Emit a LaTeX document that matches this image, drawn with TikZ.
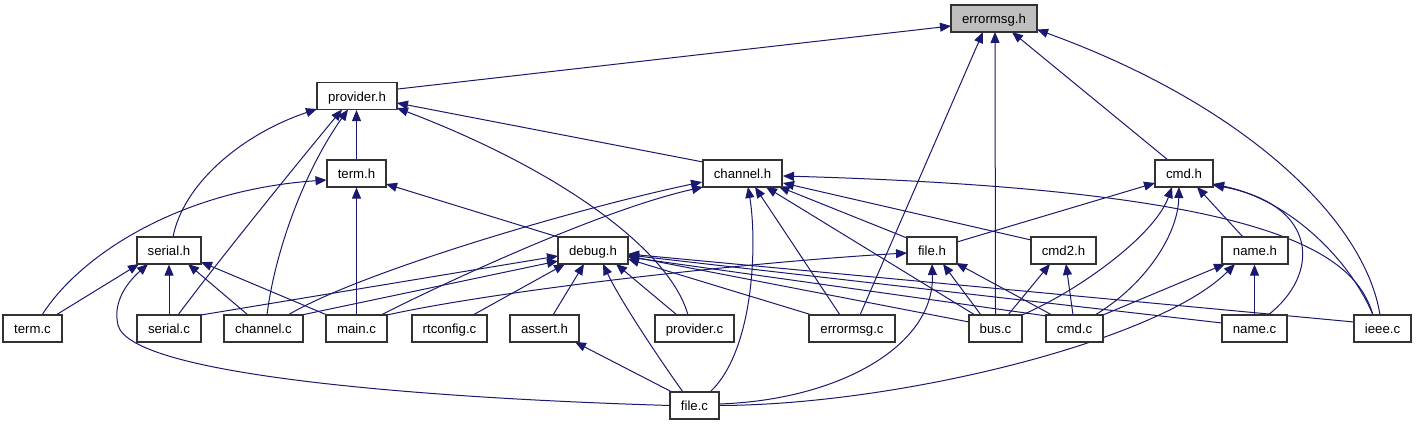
\documentclass[tikz,border=0pt]{standalone}
\usepackage{fontspec}
\setmainfont{Liberation Sans}
\usetikzlibrary{arrows.meta,calc}
\definecolor{edgec}{RGB}{25,25,112}
\definecolor{boxc}{RGB}{50,50,50}
\definecolor{hlfill}{RGB}{191,191,191}
\pgfdeclarelayer{back}
\pgfdeclarelayer{bg}
\pgfsetlayers{back,bg,main}
\begin{document}
\begin{tikzpicture}[x=1pt,y=-1pt,
  box/.style={draw=boxc,line width=1.2pt,fill=white,minimum height=27pt,inner sep=0pt,text height=11pt,text depth=0pt,font=\fontsize{13.2}{15}\selectfont,text=black},
  dep/.style={draw=edgec,line width=1pt,-{Triangle[length=11pt,width=9pt]}}]
\begin{pgfonlayer}{back}
\fill[white] (0,0) rectangle (1417,427);
\end{pgfonlayer}
\useasboundingbox (0,0) rectangle (1417,427);
% nodes
\node[box,fill=hlfill,minimum width=86pt] (errh) at (994,18.5) {errormsg.h};
\node[box,minimum width=80pt] (provh) at (357,96) {provider.h};
\node[box,minimum width=59pt] (termh) at (356.5,173.5) {term.h};
\node[box,minimum width=79pt] (chanh) at (742.5,173.5) {channel.h};
\node[box,minimum width=58pt] (cmdh) at (1184,173.5) {cmd.h};
\node[box,minimum width=64pt] (serialh) at (169,250.5) {serial.h};
\node[box,minimum width=70pt] (debugh) at (593,250.5) {debug.h};
\node[box,minimum width=50pt] (fileh) at (932,250.5) {file.h};
\node[box,minimum width=65pt] (cmd2h) at (1063.5,250.5) {cmd2.h};
\node[box,minimum width=66pt] (nameh) at (1255,250.5) {name.h};
\node[box,minimum width=59pt] (termc) at (32.5,328.5) {term.c};
\node[box,minimum width=64pt] (serialc) at (169,328.5) {serial.c};
\node[box,minimum width=79pt] (chanc) at (263.5,328.5) {channel.c};
\node[box,minimum width=61pt] (mainc) at (356.5,328.5) {main.c};
\node[box,minimum width=75pt] (rtc) at (449.5,328.5) {rtconfig.c};
\node[box,minimum width=69pt] (asserth) at (544.5,328.5) {assert.h};
\node[box,minimum width=79pt] (provc) at (694.5,328.5) {provider.c};
\node[box,minimum width=86pt] (errc) at (852,328.5) {errormsg.c};
\node[box,minimum width=53pt] (busc) at (995.5,328.5) {bus.c};
\node[box,minimum width=57pt] (cmdc) at (1074.5,328.5) {cmd.c};
\node[box,minimum width=65pt] (namec) at (1254.5,328.5) {name.c};
\node[box,minimum width=57pt] (ieeec) at (1382.5,328.5) {ieee.c};
\node[box,minimum width=49pt] (filec) at (694.5,405.5) {file.c};
\begin{pgfonlayer}{bg}
% to errormsg.h
\draw[dep] ($(provh)+(41,-7)$) -- ($(errh)+(-43,7.5)$);
\draw[dep] ($(errc)+(8,-13.5)$) -- ($(errh)+(-11,13.5)$);
\draw[dep] (busc.north) -- ($(errh)+(1,13.5)$);
\draw[dep] ($(cmdh)+(-16,-13.5)$) -- ($(errh)+(18,13.5)$);
\draw[dep] ($(ieeec)+(-2.5,-13.5)$) .. controls (1365,220) and (1245,105) .. ($(errh)+(43,11)$);
% to provider.h
\draw[dep] (termh.north) -- (termh.north |- provh.south);
\draw[dep] ($(serialh)+(4,-13.5)$) .. controls (183,185) and (240,135) .. ($(provh)+(-40,13)$);
\draw[dep] ($(serialc)+(9,-13.5)$) .. controls (215,265) and (300,160) .. ($(provh)+(-15,13.5)$);
\draw[dep] ($(chanc)+(3.5,-13.5)$) .. controls (275,250) and (305,170) .. ($(provh)+(-9,13.5)$);
\draw[dep] ($(chanh)+(-39.5,-11.5)$) -- ($(provh)+(40,7)$);
\draw[dep] ($(provc)+(-6.5,-13.5)$) .. controls (670,250) and (560,170) .. ($(provh)+(40,12)$);
% to term.h
\draw[dep] ($(termc)+(9.5,-13.5)$) .. controls (80,255) and (180,190) .. ($(termh)+(-30,6.5)$);
\draw[dep] (mainc.north) -- (mainc.north |- termh.south);
\draw[dep] ($(debugh)+(-35,-13.5)$) -- ($(termh)+(29.5,10.5)$);
% to channel.h
\draw[dep] ($(chanc)+(24.5,-13.5)$) .. controls (360,272) and (578,208) .. ($(chanh)+(-40.5,8.5)$);
\draw[dep] ($(mainc)+(24.5,-13.5)$) .. controls (440,285) and (600,210) .. ($(chanh)+(-39.5,13.5)$);
\draw[dep] ($(filec)+(15.5,-13.5)$) .. controls (755,350) and (757,240) .. ($(chanh)+(5.5,13.5)$);
\draw[dep] ($(errc)+(-12,-13.5)$) -- ($(chanh)+(12.5,13.5)$);
\draw[dep] ($(busc)+(-20.5,-13.5)$) -- ($(chanh)+(23.5,13.5)$);
\draw[dep] ($(fileh)+(-25,-12.5)$) -- ($(chanh)+(36,13)$);
\draw[dep] ($(cmd2h)+(-32.5,-10.5)$) -- ($(chanh)+(40.5,9.5)$);
\draw[dep] ($(ieeec)+(-9.5,-13.5)$) .. controls (1355,255) and (1280,190) .. ($(chanh)+(40.5,2.5)$);
% to cmd.h
\draw[dep] ($(fileh)+(25,-8.5)$) -- ($(cmdh)+(-29,9.5)$);
\draw[dep] ($(busc)+(26.5,-13.5)$) .. controls (1080,290) and (1155,235) .. ($(cmdh)+(-12,13.5)$);
\draw[dep] ($(cmdc)+(20.5,-13.5)$) .. controls (1145,285) and (1178,235) .. ($(cmdh)+(-5,13.5)$);
\draw[dep] ($(nameh)+(-12,-13.5)$) -- ($(cmdh)+(13,13.5)$);
\draw[dep] ($(namec)+(13.5,-13.5)$) .. controls (1320,275) and (1320,205) .. ($(cmdh)+(29,11.5)$);
\draw[dep] ($(ieeec)+(-9.5,-13.5)$) .. controls (1350,260) and (1290,200) .. ($(cmdh)+(29,10.5)$);
% to serial.h
\draw[dep] ($(termc)+(23.5,-13.5)$) -- ($(serialh)+(-30,13.5)$);
\draw[dep] (serialc.north) -- (serialh.south);
\draw[dep] ($(chanc)+(-15.5,-13.5)$) -- ($(serialh)+(19,13.5)$);
\draw[dep] ($(mainc)+(-29.5,-13.5)$) -- ($(serialh)+(32,11.5)$);
\draw[dep] ($(filec)+(-24.5,0)$) .. controls (420,398) and (130,375) .. (118,325) .. controls (112,300) and (130,280) .. ($(serialh)+(-21,13.5)$);
% to debug.h
\draw[dep] ($(serialc)+(32,-13.5)$) -- ($(debugh)+(-35,5.5)$);
\draw[dep] ($(chanc)+(38,-13.5)$) -- ($(debugh)+(-35,10.5)$);
\draw[dep] ($(rtc)+(23.5,-13.5)$) -- ($(debugh)+(-28,13.5)$);
\draw[dep] ($(asserth)+(8.5,-13.5)$) -- ($(debugh)+(-9,13.5)$);
\draw[dep] ($(filec)+(-11.5,-13.5)$) .. controls (660,360) and (620,300) .. ($(debugh)+(10,13.5)$);
\draw[dep] ($(provc)+(-17.5,-13.5)$) -- ($(debugh)+(23,13.5)$);
\draw[dep] ($(errc)+(-40,-13.5)$) -- ($(debugh)+(35,8.5)$);
\draw[dep] ($(busc)+(-26.5,-6.5)$) -- ($(debugh)+(35,5.5)$);
\draw[dep] ($(cmdc)+(-27.5,-12.5)$) -- ($(debugh)+(35,6.5)$);
\draw[dep] ($(namec)+(-32.5,-5.5)$) -- ($(debugh)+(35,4.5)$);
\draw[dep] ($(ieeec)+(-28.5,-6.5)$) -- ($(debugh)+(35,3.5)$);
% to file.h
\draw[dep] ($(mainc)+(30.5,-13.5)$) .. controls (500,290) and (750,262) .. ($(fileh)+(-25,2.5)$);
\draw[dep] ($(filec)+(24.5,-1.5)$) .. controls (840,400) and (935,345) .. ($(fileh)+(0,13.5)$);
\draw[dep] ($(busc)+(-14.5,-13.5)$) -- ($(fileh)+(11,13.5)$);
\draw[dep] ($(cmdc)+(-22.5,-13.5)$) -- ($(fileh)+(24,12.5)$);
% to cmd2.h
\draw[dep] ($(busc)+(12.5,-13.5)$) -- ($(cmd2h)+(-13.5,13.5)$);
\draw[dep] ($(cmdc)+(-1.5,-13.5)$) -- ($(cmd2h)+(2.5,13.5)$);
% to name.h
\draw[dep] ($(cmdc)+(28.5,-13.5)$) -- ($(nameh)+(-30,13.5)$);
\draw[dep] ($(filec)+(24.5,0)$) .. controls (900,405) and (1160,340) .. ($(nameh)+(-20,13.5)$);
\draw[dep] (namec.north) -- (namec.north |- nameh.south);
% to assert.h
\draw[dep] ($(filec)+(-22.5,-13.5)$) -- ($(asserth)+(30.5,13.5)$);
\end{pgfonlayer}
\end{tikzpicture}
\end{document}
